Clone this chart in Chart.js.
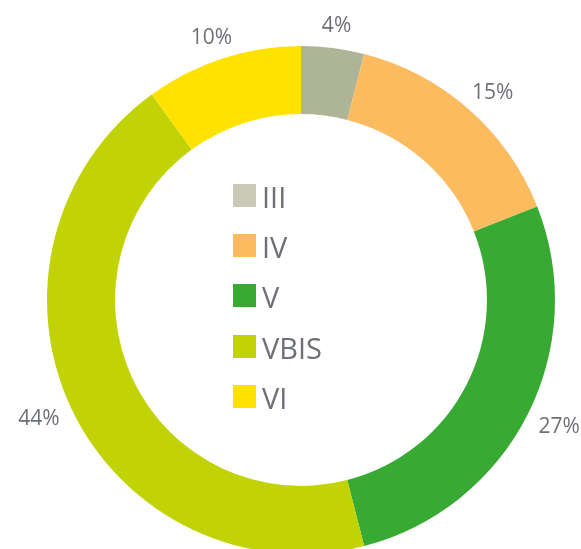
<!DOCTYPE html>
<html>
<head>
<meta charset="utf-8">
<script src="https://cdn.jsdelivr.net/npm/chart.js@4.4.0/dist/chart.umd.min.js"></script>
<style>
  html, body { margin: 0; padding: 0; background: #fff; overflow: hidden; }
  #wrap { position: relative; width: 581px; height: 560px; }
  #chart { position: absolute; left: 0; top: 0; }
  #legend { position: absolute; left: 233px; top: 171px; font-family: "Open Sans", sans-serif; color: #6d7075; }
  .row { display: flex; align-items: center; height: 50.3px; font-size: 29px; }
  .sw { width: 23px; height: 23px; margin-right: 6px; margin-top: -2px; }
</style>
</head>
<body>
<div id="wrap">
  <canvas id="chart" width="581" height="560"></canvas>
  <div id="legend"></div>
</div>
<script>
// ── Data ──
const classes = ["III", "IV", "V", "VBIS", "VI"];
const shares = [4, 15, 27, 44, 10];
const sliceColors = ["#aeb596", "#fbbb5e", "#38aa34", "#c2d305", "#ffe200"];
const legendColors = ["#c8cab5", "#fbbb5e", "#38aa34", "#c2d305", "#ffe200"];

const TEXT_GRAY = "#6d7075";

// ── Legend (HTML, centred in the hole) ──
const $ = id => document.getElementById(id);
$("legend").innerHTML = classes.map((c, i) =>
  `<div class="row"><span class="sw" style="background:${legendColors[i]}"></span>${c}</div>`
).join("");

// ── Outside percent labels ──
const outsideLabels = {
  id: "outsideLabels",
  afterDatasetsDraw(chart) {
    const ctx = chart.ctx;
    const meta = chart.getDatasetMeta(0);
    ctx.save();
    ctx.font = "21px 'Open Sans', sans-serif";
    ctx.fillStyle = TEXT_GRAY;
    ctx.textAlign = "center";
    ctx.textBaseline = "middle";
    meta.data.forEach((arc, i) => {
      const { x, y, startAngle, endAngle, outerRadius } = arc.getProps(["x", "y", "startAngle", "endAngle", "outerRadius"], true);
      const mid = (startAngle + endAngle) / 2;
      const dx = Math.cos(mid), dy = Math.sin(mid);
      const txt = shares[i] + "%";
      const w = ctx.measureText(txt).width, h = 16;
      const r = outerRadius + 15;
      const cx = x + dx * r + dx * w / 2;
      const cy = y + dy * r + dy * h / 2 + 1;
      ctx.fillText(txt, cx, cy);
    });
    ctx.restore();
  }
};

// ── Chart ──
new Chart($("chart"), {
  type: "doughnut",
  data: {
    labels: classes,
    datasets: [{
      data: shares,
      backgroundColor: sliceColors,
      borderWidth: 0,
      hoverOffset: 0,
    }],
  },
  options: {
    responsive: false,
    animation: false,
    cutout: "73.2%",
    layout: { padding: { left: 47, right: 26, top: 46, bottom: 6 } },
    plugins: { legend: { display: false }, tooltip: { enabled: false } },
    events: [],
  },
  plugins: [outsideLabels],
});
</script>
</body>
</html>
